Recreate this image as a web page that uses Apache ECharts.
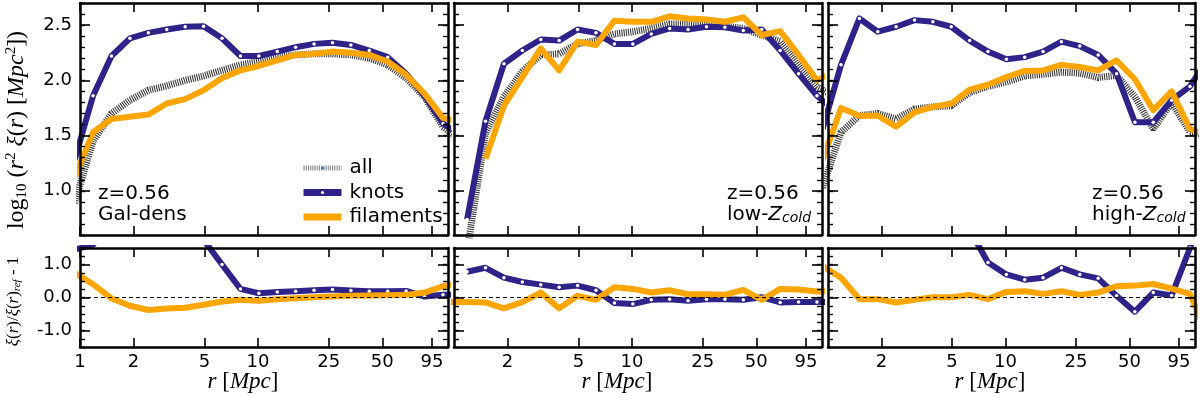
<!DOCTYPE html>
<html>
<head>
<meta charset="utf-8">
<script src="https://cdn.jsdelivr.net/npm/echarts@6.0.0/dist/echarts.min.js"></script>
<style>
  html, body { margin: 0; padding: 0; background: #fff; }
  #chart { width: 1200px; height: 397px; }
</style>
</head>
<body>
<div id="chart"></div>
<script>
// bin centres in Mpc (first and last bins fall just outside the plotted range)
const radius = [0.933, 1.184, 1.503, 1.908, 2.421, 3.073, 3.899, 4.949, 6.281, 7.971, 10.12,
  12.84, 16.29, 20.68, 26.24, 33.30, 42.27, 53.63, 68.08, 86.40, 109.6, 139.1];

const xTicksFirst = [1, 2, 5, 10, 25, 50, 95];
const xTicksOther = [2, 5, 10, 25, 50, 95];
const topMajorTicks = [1.0, 1.5, 2.0, 2.5];
const ratioMajorTicks = [-1.0, 0.0, 1.0];

// Gal-dens
const galAll = [0.89, 1.45, 1.70, 1.82, 1.91, 1.95, 2.00, 2.04, 2.09, 2.14, 2.17, 2.21, 2.23, 2.24, 2.24, 2.23, 2.20, 2.14, 2.02, 1.85, 1.58, 1.45];
const galKnots = [1.28, 1.86, 2.22, 2.38, 2.43, 2.46, 2.485, 2.49, 2.38, 2.22, 2.22, 2.26, 2.30, 2.33, 2.34, 2.32, 2.27, 2.21, 2.06, 1.86, 1.61, 1.50];
const galFil = [1.12, 1.53, 1.65, 1.67, 1.69, 1.79, 1.83, 1.91, 2.02, 2.09, 2.13, 2.18, 2.23, 2.24, 2.26, 2.25, 2.23, 2.17, 2.05, 1.88, 1.66, 1.62];
const galKnotsRatio = [1.45, 1.6, 2.3, 3.0, 3.2, 3.0, 2.5, 1.75, 1.0, 0.26, 0.13, 0.17, 0.19, 0.22, 0.24, 0.21, 0.19, 0.19, 0.20, 0.03, 0.08, 0.08];
const galFilRatio = [0.75, 0.40, -0.03, -0.25, -0.38, -0.33, -0.31, -0.22, -0.12, -0.07, -0.10, -0.05, -0.02, 0.01, 0.03, 0.05, 0.06, 0.07, 0.08, 0.15, 0.34, 0.45];

// low-Zcold
const lowAll = [null, 0.45, 1.52, 1.85, 2.08, 2.23, 2.24, 2.33, 2.36, 2.42, 2.44, 2.47, 2.51, 2.51, 2.50, 2.49, 2.47, 2.41, 2.35, 2.14, 1.94, 1.85];
const lowKnots = [null, 0.74, 1.63, 2.15, 2.27, 2.37, 2.36, 2.46, 2.43, 2.33, 2.33, 2.42, 2.47, 2.46, 2.485, 2.48, 2.45, 2.46, 2.27, 2.06, 1.86, 1.72];
const lowFil = [null, null, 1.29, 1.77, 2.03, 2.29, 2.09, 2.35, 2.32, 2.54, 2.53, 2.53, 2.58, 2.56, 2.55, 2.53, 2.57, 2.41, 2.445, 2.23, 2.00, 2.08];
const lowKnotsRatio = [null, 0.78, 0.90, 0.60, 0.47, 0.39, 0.31, 0.36, 0.22, -0.17, -0.20, -0.07, -0.05, -0.10, -0.05, -0.05, -0.07, 0.01, -0.15, -0.14, -0.14, -0.14];
const lowFilRatio = [-0.14, -0.14, -0.15, -0.33, -0.14, 0.15, -0.33, 0.05, -0.07, 0.31, 0.26, 0.15, 0.22, 0.10, 0.10, 0.08, 0.23, -0.07, 0.26, 0.24, 0.18, 0.20];

// high-Zcold
const highAll = [1.03, 1.53, 1.68, 1.70, 1.65, 1.74, 1.76, 1.77, 1.89, 1.945, 1.985, 2.04, 2.055, 2.075, 2.065, 2.025, 2.045, 1.85, 1.56, 1.80, 1.53, 1.50];
const highKnots = [1.56, 2.14, 2.56, 2.44, 2.485, 2.545, 2.53, 2.485, 2.36, 2.26, 2.19, 2.21, 2.26, 2.35, 2.31, 2.23, 2.06, 1.62, 1.62, 1.82, 1.945, 2.20];
const highFil = [1.28, 1.75, 1.68, 1.68, 1.58, 1.71, 1.76, 1.79, 1.915, 1.96, 2.03, 2.085, 2.09, 2.14, 2.12, 2.09, 2.18, 2.01, 1.73, 1.90, 1.56, 1.50];
const highKnotsRatio = [2.4, 3.1, 6.6, 5.9, 6.0, 5.2, 5.0, 4.1, 2.05, 1.06, 0.70, 0.54, 0.60, 0.90, 0.70, 0.58, 0.05, -0.43, 0.15, 0.06, 1.5, 3.0];
const highFilRatio = [0.95, 0.60, -0.05, -0.05, -0.15, -0.07, 0.01, 0.01, 0.08, -0.05, 0.17, 0.19, 0.11, 0.19, 0.08, 0.15, 0.34, 0.36, 0.41, 0.27, 0.11, -1.2];

const NAVY = '#2e2388';
const ORANGE = '#ffa500';
const HATCH = '#3a3a3a';
const SANS = 'DejaVu Sans';
const SERIF = 'Liberation Serif';

const panels = [
  { left: 80, width: 368, ticks: xTicksFirst, labelsY: true, xName: 243,
    all: galAll, knots: galKnots, fil: galFil, knotsRatio: galKnotsRatio, filRatio: galFilRatio,
    note: '{t|z=0.56}\n{t|Gal-dens}', noteX: 98 },
  { left: 454, width: 368, ticks: xTicksOther, labelsY: false, xName: 617,
    all: lowAll, knots: lowKnots, fil: lowFil, knotsRatio: lowKnotsRatio, filRatio: lowFilRatio,
    note: '{t|z=0.56}\n{t|low-}{z|Z}{c|cold}', noteX: 727 },
  { left: 828, width: 367, ticks: xTicksOther, labelsY: false, xName: 990,
    all: highAll, knots: highKnots, fil: highFil, knotsRatio: highKnotsRatio, filRatio: highFilRatio,
    note: '{t|z=0.56}\n{t|high-}{z|Z}{c|cold}', noteX: 1092 },
];

const grids = [];
const xAxes = [];
const yAxes = [];
const series = [];
const graphics = [];

const frame = { show: true, onZero: false, lineStyle: { color: '#000', width: 2.5 } };

function pair(vals) {
  return radius.map((r, i) => [r, vals[i]]);
}

function addX(gridIndex, ticks, showLabels) {
  const first = xAxes.length;
  ['bottom', 'top'].forEach((pos) => {
    xAxes.push({
      type: 'log',
      logBase: 10,
      min: 1,
      max: 117,
      gridIndex,
      position: pos,
      z: 10,
      axisLine: frame,
      splitLine: { show: false },
      minorTick: { show: false },
      axisTick: { inside: true, length: 9, customValues: ticks, lineStyle: { color: '#000', width: 1.6 } },
      axisLabel: {
        show: showLabels && pos === 'bottom',
        customValues: ticks,
        margin: 6,
        color: '#000',
        fontFamily: SANS,
        fontSize: 18,
        formatter: (v) => String(Math.round(v)),
      },
    });
  });
  return first;
}

function addY(gridIndex, min, max, minorStep, major, showLabels, name) {
  let majorLeft = 0;
  ['left', 'right'].forEach((pos) => {
    // minor ticks + frame side
    yAxes.push({
      type: 'value', gridIndex, position: pos, min, max, interval: minorStep, z: 10,
      axisLine: frame,
      splitLine: { show: false },
      axisTick: { inside: true, length: 5, lineStyle: { color: '#000', width: 1.4 } },
      axisLabel: { show: false },
    });
    if (pos === 'left') majorLeft = yAxes.length;
    const ax = {
      type: 'value', gridIndex, position: pos, min, max, z: 10,
      axisLine: { show: false, onZero: false },
      splitLine: { show: false },
      axisTick: { inside: true, length: 10, customValues: major, lineStyle: { color: '#000', width: 1.6 } },
      axisLabel: {
        show: showLabels && pos === 'left',
        customValues: major,
        margin: 8,
        color: '#000',
        fontFamily: SANS,
        fontSize: 18,
        formatter: (v) => v.toFixed(1),
      },
    };
    if (name && pos === 'left') Object.assign(ax, name);
    yAxes.push(ax);
  });
  return majorLeft;
}

const topName = {
  name: '{n|log}{s|10}{n| (}{i|r}{p|2}{n| }{i|ξ}{n|(}{i|r}{n|) [}{i|Mpc}{p|2}{n|])}',
  nameLocation: 'middle',
  nameGap: 50,
  nameTextStyle: {
    color: '#000',
    padding: [0, 22, 0, 0],
    rich: {
      n: { fontFamily: SERIF, fontSize: 24, lineHeight: 26, color: '#000' },
      i: { fontFamily: SERIF, fontStyle: 'italic', fontSize: 24, lineHeight: 26, color: '#000' },
      s: { fontFamily: SERIF, fontSize: 15, verticalAlign: 'bottom', color: '#000' },
      p: { fontFamily: SERIF, fontSize: 15, verticalAlign: 'top', color: '#000' },
    },
  },
};

const ratioName = {
  name: '{i|ξ}{n|(}{i|r}{n|)/}{i|ξ}{n|(}{i|r}{n|)}{b|ref}{n| - 1}',
  nameLocation: 'middle',
  nameGap: 57,
  nameTextStyle: {
    color: '#000',
    padding: [0, 8, 0, 0],
    rich: {
      n: { fontFamily: SERIF, fontSize: 17, lineHeight: 18, color: '#000' },
      i: { fontFamily: SERIF, fontStyle: 'italic', fontSize: 17, lineHeight: 18, color: '#000' },
      b: { fontFamily: SERIF, fontStyle: 'italic', fontSize: 11, verticalAlign: 'bottom', color: '#000' },
    },
  },
};

function lineSeries(name, data, xIdx, yIdx, kind) {
  const s = {
    name,
    type: 'line',
    xAxisIndex: xIdx,
    yAxisIndex: yIdx,
    data: pair(data),
    connectNulls: false,
    clip: true,
  };
  if (kind === 'all') {
    Object.assign(s, {
      symbol: 'none', z: 2,
      lineStyle: { color: HATCH, width: 7, type: [1.1, 1.1] },
    });
  } else if (kind === 'knots') {
    Object.assign(s, {
      symbol: 'circle', symbolSize: 3.5, showSymbol: true, z: 3,
      itemStyle: { color: '#fff', borderWidth: 0 },
      lineStyle: { color: NAVY, width: 6, join: 'round' },
    });
  } else {
    Object.assign(s, {
      symbol: 'none', z: 4,
      itemStyle: { color: ORANGE },
      lineStyle: { color: ORANGE, width: 6, join: 'round' },
    });
  }
  return s;
}

panels.forEach((p, pi) => {
  // upper panel
  grids.push({ left: p.left, top: 3, width: p.width, height: 232 });
  const gTop = grids.length - 1;
  const xTop = addX(gTop, p.ticks, false);
  const yTop = addY(gTop, 0.6, 2.7, 0.1, topMajorTicks, p.labelsY, pi === 0 ? topName : null);
  series.push(lineSeries('all', p.all, xTop, yTop, 'all'));
  series.push(lineSeries('knots', p.knots, xTop, yTop, 'knots'));
  series.push(lineSeries('filaments', p.fil, xTop, yTop, 'fil'));

  // ratio panel
  grids.push({ left: p.left, top: 248, width: p.width, height: 99 });
  const gBot = grids.length - 1;
  const xBot = addX(gBot, p.ticks, true);
  const yBot = addY(gBot, -1.5, 1.5, 0.25, ratioMajorTicks, p.labelsY, pi === 0 ? ratioName : null);
  const fr = lineSeries('filaments', p.filRatio, xBot, yBot, 'fil');
  fr.markLine = {
    silent: true,
    symbol: ['none', 'none'],
    label: { show: false },
    z: 6,
    lineStyle: { color: '#000', width: 1.2, type: [4, 3] },
    data: [{ yAxis: 0 }],
  };
  series.push(lineSeries('knots', p.knotsRatio, xBot, yBot, 'knots'));
  series.push(fr);

  // annotation + x axis title
  graphics.push({
    type: 'text', left: p.noteX, top: 184, z: 20,
    style: {
      text: p.note,
      rich: {
        t: { fontFamily: SANS, fontSize: 20, lineHeight: 21, fill: '#000' },
        z: { fontFamily: SANS, fontStyle: 'italic', fontSize: 20, lineHeight: 21, fill: '#000' },
        c: { fontFamily: SANS, fontStyle: 'italic', fontSize: 14, verticalAlign: 'bottom', fill: '#000' },
      },
    },
  });
  graphics.push({
    type: 'text', x: p.xName, y: 382, z: 20,
    style: {
      text: '{i|r}{n| [}{i|Mpc}{n|]}',
      align: 'center',
      verticalAlign: 'middle',
      rich: {
        n: { fontFamily: SERIF, fontSize: 23, fill: '#000' },
        i: { fontFamily: SERIF, fontStyle: 'italic', fontSize: 23, fill: '#000' },
      },
    },
  });
});

const option = {
  animation: false,
  backgroundColor: '#fff',
  legend: {
    left: 300,
    top: 157,
    orient: 'vertical',
    padding: 0,
    itemWidth: 38,
    itemHeight: 4,
    itemGap: 2.5,
    textStyle: { fontFamily: SANS, fontSize: 20, lineHeight: 22, color: '#000', padding: [0, 0, 0, 3] },
    data: [
      { name: 'all', lineStyle: { color: '#888', width: 5, type: [1.1, 1.1] } },
      { name: 'knots', lineStyle: { color: NAVY, width: 7 } },
      { name: 'filaments', lineStyle: { color: ORANGE, width: 7 } },
    ],
  },
  grid: grids,
  xAxis: xAxes,
  yAxis: yAxes,
  series,
  graphic: graphics,
};

const chart = echarts.init(document.getElementById('chart'));
chart.setOption(option);
</script>
</body>
</html>
